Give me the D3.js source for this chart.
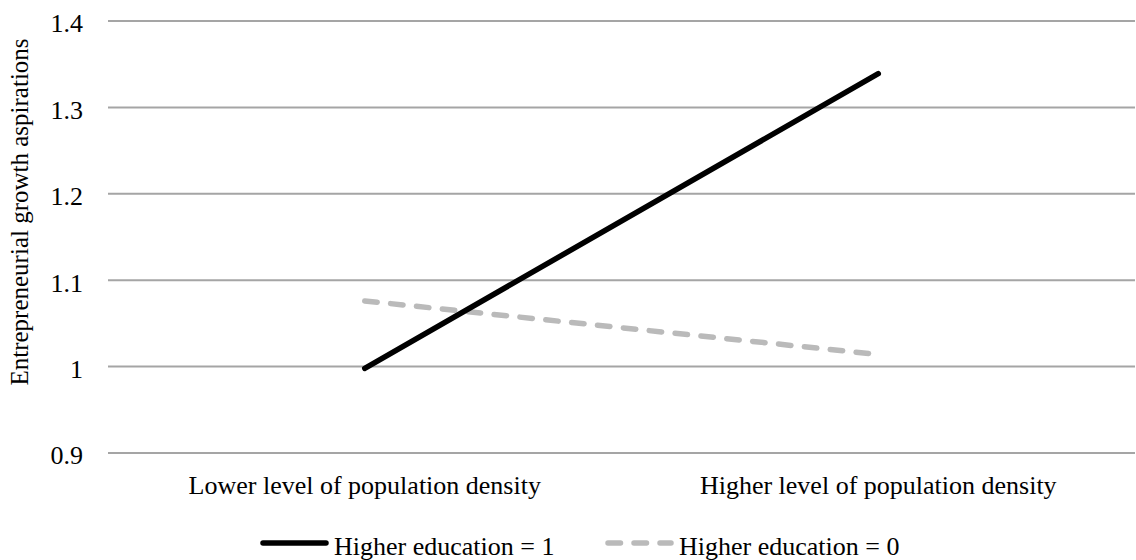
<!DOCTYPE html>
<html lang="en-US">
<head>
  <meta charset="UTF-8"/>
  <title>Entrepreneurial growth aspirations</title>
  <style>
    body { margin: 0; background: #fff; }
    svg text { font-family: "Liberation Serif", "Times New Roman", "DejaVu Serif", serif; fill: #000; }
  </style>
</head>
<body>
<script src="https://cdn.jsdelivr.net/npm/d3@7"></script>
<script>

// data
var categories = ["Lower level of population density", "Higher level of population density"];
var seriesNames = ["Higher education = 1", "Higher education = 0"];
var eduHigh = [0.998, 1.339];
var eduLow  = [1.076, 1.014];
var yTicks  = [0.9, 1.0, 1.1, 1.2, 1.3, 1.4];

var serif = "'Liberation Serif', 'Times New Roman', 'DejaVu Serif', serif";

var margin = {top: 21, right: 1, bottom: 107, left: 108}
  , width  = 1136 - margin.left - margin.right
  , height = 560 - margin.top - margin.bottom;

var root = d3.select("body").append("svg")
    .attr("width", 1136)
    .attr("height", 560)
    .attr("font-family", serif);

var svg = root.append("g")
    .attr("transform", "translate(" + margin.left + "," + margin.top + ")");

var xScale = d3.scaleBand().domain(categories).range([0, width]);
var yScale = d3.scaleLinear().domain([0.9, 1.4]).range([height, 0]);

// grid lines
svg.append("g")
    .selectAll("line")
    .data(yTicks)
    .enter().append("line")
      .attr("x1", 0).attr("x2", width)
      .attr("y1", function(d) { return yScale(d); })
      .attr("y2", function(d) { return yScale(d); })
      .attr("stroke", "#a5a5a5")
      .attr("stroke-width", 2);

// y axis labels
var yAxis = svg.append("g")
    .call(d3.axisLeft(yScale).tickValues(yTicks).tickSize(0).tickPadding(25)
      .tickFormat(function(d) { return String(+d.toFixed(1)); }));
yAxis.attr("font-family", serif).attr("font-size", 26);
yAxis.select(".domain").remove();
yAxis.selectAll("text")
    .attr("dy", "0.42em")
    .attr("fill", "#000");

// x axis labels
var xAxis = svg.append("g")
    .attr("transform", "translate(0," + height + ")")
    .call(d3.axisBottom(xScale).tickSize(0).tickPadding(23));
xAxis.attr("font-family", serif).attr("font-size", 26);
xAxis.select(".domain").remove();
xAxis.selectAll("text")
    .attr("fill", "#000");

// y axis title
svg.append("text")
    .attr("transform", "rotate(-90)")
    .attr("x", -191)
    .attr("y", -margin.left + 28)
    .attr("font-size", 25)
    .style("text-anchor", "middle")
    .text("Entrepreneurial growth aspirations");

// lines
var line = d3.line()
    .x(function(d, i) { return xScale(categories[i]) + xScale.bandwidth() / 2; })
    .y(function(d) { return yScale(d); });

svg.append("path")
    .datum(eduLow)
    .attr("d", line)
    .attr("fill", "none")
    .attr("stroke", "#bababa")
    .attr("stroke-width", 5.5)
    .attr("stroke-linecap", "round")
    .attr("stroke-dasharray", "12.5,13.5");

svg.append("path")
    .datum(eduHigh)
    .attr("d", line)
    .attr("fill", "none")
    .attr("stroke", "#000")
    .attr("stroke-width", 5.5)
    .attr("stroke-linecap", "round");

// legend
var legend = root.append("g");
var legendItems = [
  {name: seriesNames[0], x: 263, color: "#000", dash: null},
  {name: seriesNames[1], x: 608, color: "#bababa", dash: "12.5,13.5"}
];
legendItems.forEach(function(d) {
  legend.append("line")
      .attr("x1", d.x).attr("x2", d.x + 63)
      .attr("y1", 543).attr("y2", 543)
      .attr("stroke", d.color)
      .attr("stroke-width", 5.5)
      .attr("stroke-linecap", "round")
      .attr("stroke-dasharray", d.dash);
  legend.append("text")
      .attr("x", d.x + 71)
      .attr("y", 555)
      .attr("font-size", 26)
      .text(d.name);
});

</script>
</body>
</html>
